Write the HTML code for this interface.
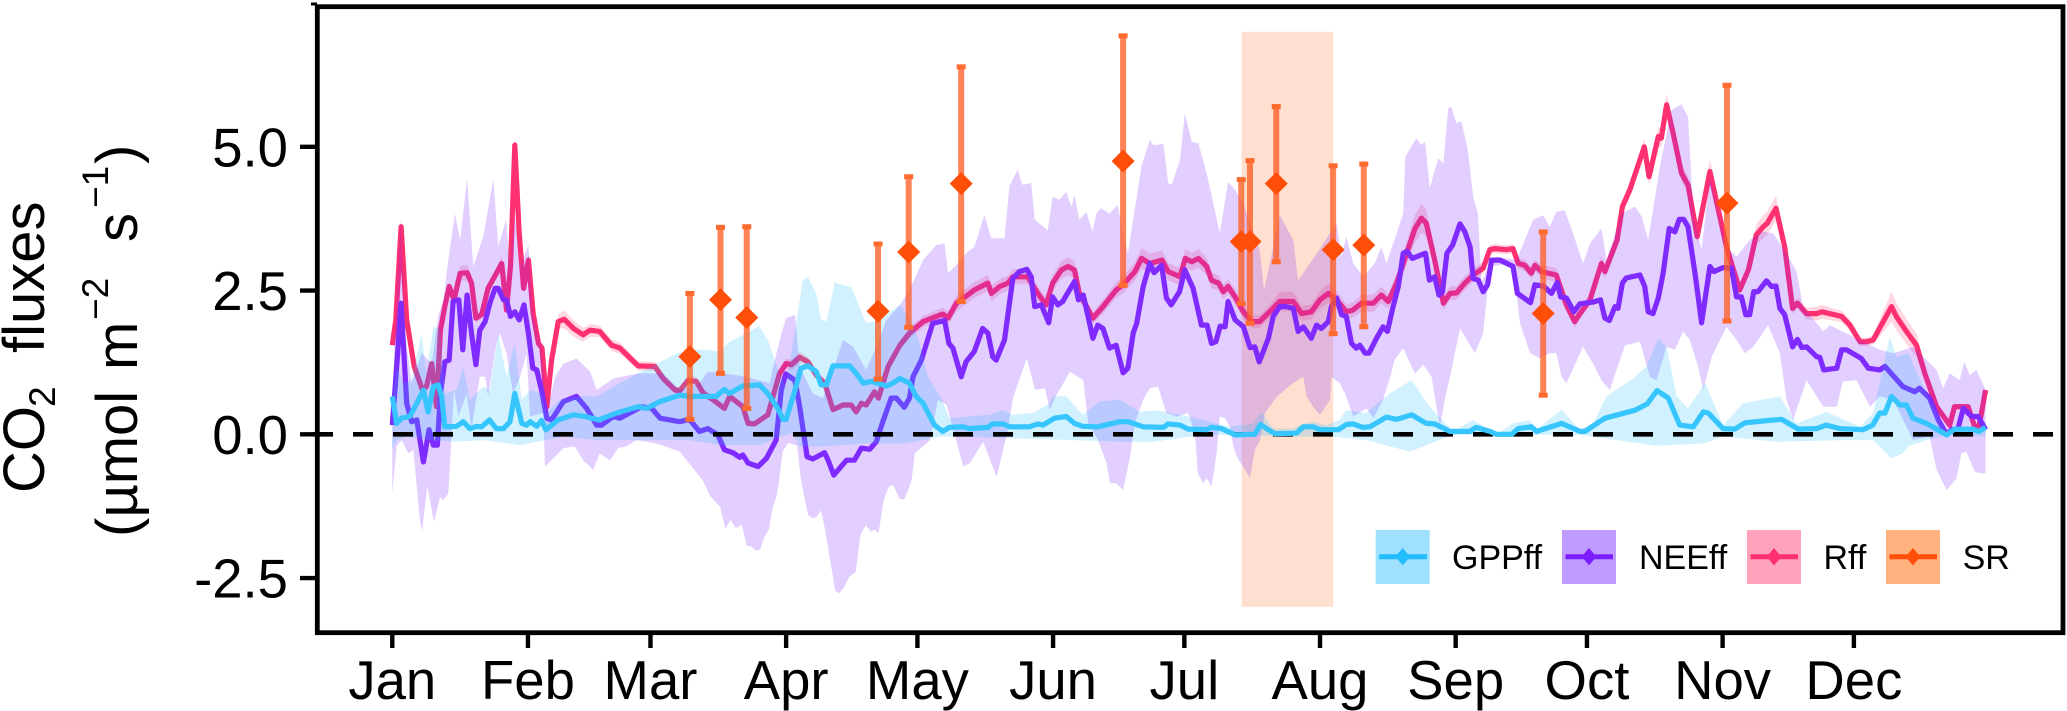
<!DOCTYPE html>
<html lang="en">
<head>
<meta charset="utf-8">
<title>CO2 fluxes</title>
<style>
html,body{margin:0;padding:0;background:#fff;}
svg{display:block;font-family:"Liberation Sans",sans-serif;}
</style>
</head>
<body>
<svg id="chart" xmlns="http://www.w3.org/2000/svg" width="2067" height="711" viewBox="0 0 2067 711">
<g id="plot"></g>
<g id="axes">
<rect x="317.3" y="6.7" width="1745.7" height="626" fill="none" stroke="#000" stroke-width="4.8"/>
<line x1="311" y1="4" x2="317" y2="4" stroke="#000" stroke-width="3"/>
</g>
<g fill="#000">
<text transform="translate(44,493) rotate(-90)" font-size="58">CO</text>
<text transform="translate(55,407) rotate(-90)" font-size="37">2</text>
<text transform="translate(44,353) rotate(-90)" font-size="58">fluxes</text>
<text transform="translate(137,537) rotate(-90)" font-size="58">(µmol</text>
<text transform="translate(137,370) rotate(-90)" font-size="58">m</text>
<text transform="translate(108,320) rotate(-90)" font-size="37">−2</text>
<text transform="translate(137,242) rotate(-90)" font-size="58">s</text>
<text transform="translate(108,208) rotate(-90)" font-size="37">−1</text>
<text transform="translate(137,164) rotate(-90)" font-size="58">)</text>
</g>
<g font-size="34" fill="#000">
<g>
<rect x="1375.7" y="530" width="54" height="54" fill="#9FE0FF"/>
<line x1="1379" y1="556.7" x2="1427" y2="556.7" stroke="#22BCFF" stroke-width="5"/>
<polygon points="1402.7,548 1410,556.7 1402.7,565.4 1395.4,556.7" fill="#22BCFF"/>
<text x="1452" y="569">GPPff</text>
</g>
<g>
<rect x="1562" y="530" width="54" height="54" fill="#C09BFF"/>
<line x1="1565.5" y1="556.7" x2="1613" y2="556.7" stroke="#7A1EFF" stroke-width="5"/>
<polygon points="1589,548 1596.3,556.7 1589,565.4 1581.7,556.7" fill="#7A1EFF"/>
<text x="1639" y="569">NEEff</text>
</g>
<g>
<rect x="1747" y="530" width="54" height="54" fill="#FFA3BC"/>
<line x1="1750.5" y1="556.7" x2="1798" y2="556.7" stroke="#FF3070" stroke-width="5"/>
<polygon points="1774,548 1781.3,556.7 1774,565.4 1766.7,556.7" fill="#FF3070"/>
<text x="1823.5" y="569">Rff</text>
</g>
<g>
<rect x="1886" y="530" width="54" height="54" fill="#FFB27E"/>
<line x1="1889.5" y1="556.7" x2="1937" y2="556.7" stroke="#FF4E08" stroke-width="5"/>
<polygon points="1913,548 1920.3,556.7 1913,565.4 1905.7,556.7" fill="#FF4E08"/>
<text x="1962.6" y="569">SR</text>
</g>
</g>
</svg>
<script>
const monthLabels = ["Jan","Feb","Mar","Apr","May","Jun","Jul","Aug","Sep","Oct","Nov","Dec"];
const monthDays = [0,31,59,90,120,151,181,212,243,273,304,334];
const yTickValues = [-2.5,0,2.5,5];
const yTickLabels = ["-2.5","0.0","2.5","5.0"];

const rDays = [0,.8,2,3.3,5,6.9,7.8,9,10.1,11,12,13,14.1,15.5,17.1,18.1,19.1,20.4,21.9,23.8,25,26.1,27,28,29,30,31.1,32.2,33.4,34.2,35.3,36.4,37.9,39.3,41.4,43.6,45.2,47.4,50.1,52,56.2,60,61.9,64.6,65.7,67.6,
69.5,71,73.3,75.9,77.1,80.1,81.3,82.8,85.8,87.3,88.5,90,91.2,93.1,95,96.9,98.8,100.7,103,104.9,106,107.2,108.3,110.2,111.1,113.3,116,118.2,121.3,125.8,127,128.9,130,133,136.1,136.9,138.8,140.7,141.8,145.2,147.5,149.4,150.9,152.9,154.4,155.9,157,160.1,162.4,165.4,167,
169.7,171.2,173.1,175.9,177.3,180,181.2,182.7,184.2,186.1,187.2,188.8,189.9,191,192.6,194.5,196.4,198.2,200.5,202.8,205.9,207.8,210,212,213.9,215.8,218,219.5,221.5,224.2,226,227.6,229.5,231.8,233.7,235.2,236.3,238.2,240.2,241.7,243.2,245.1,247,249.3,250.8,252,254.6,256.1,257.3,258.8,260.3,261.1,262.6,266,268.3,270.2,
271.4,273.7,276.3,277.1,279.9,281.1,282.8,286.1,287.2,289.3,290,291.2,292.7,294.6,296.1,298.2,301.1,304.9,307.9,309.9,311.7,313.3,314.2,316.2,318.2,320,321.1,323.2,325.5,326.7,331.2,333.1,335.4,336.9,338.4,342.6,343.7,346,348.3,350.2,352.9,355.9,357,360.1,361.6,362.6,364.1];
const rValues = [1.55,1.99,3.61,1.99,1.18,.77,.83,1.23,.48,1.81,2.22,2.57,2.34,2.8,2.81,2.63,2.02,2.08,2.54,2.8,2.97,2.16,2.92,5.03,3.5,2.54,3.03,2.1,1.58,1.5,.48,1.29,1.96,2,1.84,1.73,1.81,1.79,1.55,1.5,1.19,1.18,.97,.77,.76,.94,
.92,.72,.6,.45,.66,.48,.19,.18,.34,.74,1.06,1.23,1.21,1.34,1.26,1.03,.89,.43,.51,.51,.39,.54,.51,.74,.63,1.18,1.55,1.76,1.96,2.09,2.02,2.28,2.34,2.51,2.63,2.45,2.57,2.63,2.74,2.74,2.45,2.25,2.63,2.86,2.92,2.86,2.45,2.02,2.22,2.51,2.6,
2.83,3.06,2.97,3.03,2.83,2.74,3.06,3,3.06,2.92,2.68,2.63,2.48,2.57,2.39,2.13,1.96,1.96,2.13,2.31,2.31,2.1,2.13,2.34,2.45,2.34,2.13,2.16,2.28,2.28,2.42,2.31,2.63,3.15,3.58,3.76,3.67,3.03,2.28,2.45,2.46,2.63,2.77,2.89,3.21,3.23,3.21,3.23,2.97,2.94,2.8,2.94,2.83,2.77,2.25,1.96,
2.1,2.34,2.97,2.83,3.38,3.96,4.25,5,4.48,5.18,5.15,5.73,5.23,4.54,4.34,3.44,4.57,3.26,2.51,2.86,3.47,3.61,3.67,3.93,3.26,2.19,2.28,2.1,2.1,2.13,2.05,1.9,1.61,1.61,1.64,2.22,2.05,1.79,1.55,1.06,.48,.16,.48,.48,.13,.13,.77];
const rSpread = [.03,.06,.17,.08,.05,.04,.05,.08,.05,.06,.07,.08,.09,.12,.14,.12,.08,.07,.08,.1,.12,.08,.1,.18,.1,.08,.1,.07,.06,.05,.04,.06,.12,.16,.14,.12,.11,.1,.1,.1,.08,.08,.07,.06,.06,.08,
.08,.07,.06,.05,.05,.05,.05,.05,.05,.06,.08,.09,.09,.1,.08,.07,.06,.05,.05,.05,.05,.05,.05,.05,.05,.07,.08,.09,.1,.11,.12,.13,.14,.14,.14,.14,.13,.13,.13,.13,.12,.12,.14,.15,.16,.15,.12,.1,.12,.13,.15,
.16,.18,.17,.17,.15,.15,.16,.16,.16,.15,.14,.13,.13,.13,.13,.12,.11,.11,.12,.17,.17,.13,.13,.15,.17,.15,.13,.13,.15,.15,.15,.13,.15,.2,.24,.25,.24,.18,.12,.12,.12,.12,.12,.1,.08,.08,.08,.08,.08,.1,.1,.1,.12,.12,.11,.11,
.1,.1,.13,.12,.12,.12,.13,.13,.15,.17,.17,.2,.18,.15,.14,.12,.22,.15,.1,.12,.18,.2,.2,.22,.15,.1,.09,.1,.12,.12,.1,.1,.08,.07,.08,.26,.24,.22,.2,.12,.05,.05,.05,.05,.03,.03,.05];

const neeDays = [0,1,2,3.3,4.4,5.6,7.1,8.4,9.4,10.3,11,12,13,13.9,15.2,16.1,17.1,18.1,19.1,20,21.2,22.3,23.5,24.2,25.4,26.1,27,28,29,30.1,31.1,32.1,33,34.1,35.3,36.4,39.1,42.1,44.4,46.7,47.8,50.5,52,57,59.3,61.2,65.7,
67.9,70.2,72.1,74.4,75.9,77.8,79.4,80.1,81.3,83.6,85.5,87.7,88.9,89.9,92,93.1,94.8,96.1,98.8,99.6,100.9,103.8,105.6,107.2,109.1,110.6,112.1,114,115.2,117,118.2,119,120.9,123.5,126.2,127.2,128.1,130,131.1,133,134.9,136.1,137.2,138,139.9,141.8,143.3,145,146,146.8,148.3,150,150.9,152.1,153.2,155.9,156.8,157.9,160.1,161.2,162.4,163.9,165.4,167,168.1,
169.3,170.1,171.6,173.1,174.1,175.8,176.9,178,179.9,181.1,183,184.9,186.2,187.2,188.2,189.2,190.3,191,192.6,194.5,196,197.1,198.1,200.2,201.3,202.8,204.3,205.9,207,208.2,210,211.2,212.3,213.9,214.6,215.8,216.9,218,219.2,220.3,221.1,222.3,223.2,224.9,226.4,227.4,228.7,229.9,231,231.9,233.1,236.1,237,238.2,239.2,240,241,242.3,244,245.1,246.3,247,248.2,249.3,250.3,251.2,253.1,256.1,257.1,260.1,261.1,263,264.9,266.2,267,268.3,270,
271.4,274.4,276.1,277.1,278.1,279.4,280.1,281.1,282,285.1,286.2,287,288.1,289.3,290.4,291.8,293.1,294.1,295.1,296.1,297.7,299.2,301.1,302,304.1,306,307.2,308.3,309.3,310.2,311.1,312.1,314,315.2,316.2,317.1,318.2,320,321.1,322.1,323.2,325.5,326.2,327.1,330.1,331.2,332.3,335.7,337.3,339.9,341.1,345.2,347.9,349,351.3,353.3,355.2,356.3,357.8,359,360.9,362.4,364.1];
const neeValues = [.16,1.18,2.28,.54,.22,.25,-.48,.08,-.19,-.19,.71,1.26,1.29,2.31,2.34,1.47,2.42,1.76,1.21,1.81,1.96,2.28,2.54,2.54,2.34,2.34,2.05,2.13,1.99,2.25,1.76,1.15,1.12,.77,.28,.25,.57,.66,.45,.16,.16,.31,.28,.48,.45,.28,.22,
.26,.05,.1,-.01,-.27,-.32,-.4,-.36,-.5,-.56,-.42,-.1,.77,1.05,.94,.48,-.39,-.43,-.32,-.45,-.71,-.45,-.45,-.24,-.26,-.13,.22,.63,.63,.47,.63,1,1.29,1.93,1.98,1.58,1.5,1,1.26,1.44,1.84,1.76,1.35,1.29,1.64,2.71,2.83,2.87,2.74,2.22,2.25,1.94,2.39,2.25,2.31,2.66,2.34,2.42,1.67,1.9,1.84,1.5,1.55,1.07,1.15,
1.76,1.93,2.57,2.97,2.81,2.94,2.37,2.25,2.48,2.86,2.54,1.9,1.9,1.58,1.61,1.88,1.87,2.31,1.99,1.87,1.51,1.52,1.26,1.67,2.05,2.22,2.22,2.19,1.79,1.87,1.67,1.9,1.84,1.96,2.22,2.37,2.08,2.05,1.58,1.5,1.55,1.41,1.41,1.67,1.87,1.79,2.22,2.57,3.15,3.18,3.06,3.15,2.68,2.74,2.42,2.48,3.15,3.29,3.66,3.52,3.26,2.71,2.68,2.48,2.6,3.03,3.03,2.92,2.45,2.29,2.6,2.58,2.45,2.64,2.39,2.37,2.13,
2.27,2.3,2.34,2.02,1.98,2.22,2.19,2.63,2.72,2.77,2.57,2.13,2.1,2.37,2.8,3.58,3.52,3.74,3.74,3.61,2.8,1.94,2.92,2.83,2.9,2.89,2.39,2.39,2.08,2.08,2.48,2.48,2.67,2.57,2.58,2.19,2.08,1.52,1.65,1.51,1.52,1.35,1.34,1.12,1.15,1.47,1.47,1.32,1.15,1.12,1.18,.83,.74,.8,.63,.25,-.01,.08,.1,.45,.31,.31,.08];

const gppDays = [0,1,2.1,4,5.6,7.1,8.2,9.4,10.5,11.3,12,14.7,16.2,17.7,19.3,20.4,22.2,23.8,25.4,26.9,28,29.6,30.7,31.5,33,34.1,35.1,37.9,41.4,44,47.1,51.3,56.2,58.1,61.2,65.7,
67.9,74,75.9,77.1,80.1,83.9,85.8,88.1,89.3,90,91.9,93.4,95,96.9,98,99.2,100.7,104.5,106,107.6,109.5,112.9,114.4,116,118.2,119.7,121.3,123.9,125.8,127.3,130.4,131.9,136.1,137.2,139.5,141.1,145.6,147.5,148.7,151.3,154,155.9,157.8,161.2,166.2,
168.2,171.6,176.2,177.3,180,181.9,186.1,187.2,189.5,192.6,197.1,198.4,199.8,201.7,206.6,208.2,210.4,212,216.2,218,219.6,221.8,223.4,227.2,229.5,232.9,236.3,238.2,241.7,246.2,247.7,250.8,252.3,255.8,257.3,260.3,261.5,267.2,
271.4,272.5,277.1,284,286.8,289,291.6,294.2,297.3,299.6,300.7,304.1,306.8,309.1,314.4,317.5,321.3,325.5,327.7,330.8,336.1,338.3,339.9,341.1,342.6,344.5,346,347.5,350.6,355.2,357,361.2,362.6,364.1];
const gppValues = [.66,.19,.28,.31,.54,.77,.39,.83,.86,.66,.13,.14,.22,.1,.14,.13,.25,.1,.1,.22,.71,.19,.16,.22,.14,.24,.08,.25,.34,.31,.25,.37,.48,.45,.57,.68,
.66,.66,.78,.71,.84,.86,.71,.45,.26,.26,.74,1.15,1.19,1.09,.86,.86,1.19,1.19,1.06,.89,.92,.84,.89,.97,.89,.66,.54,.16,.05,.12,.13,.1,.12,.18,.18,.13,.13,.18,.16,.28,.31,.19,.14,.13,.22,
.22,.13,.12,.18,.16,.09,.08,.12,.1,-.01,0,.17,.1,.01,.02,.13,.13,.08,.08,.17,.18,.12,.13,.3,.26,.34,.19,.18,.05,.05,.12,.05,0,0,.1,.13,.05,.19,
.05,.05,.28,.42,.53,.76,.63,.16,.13,.39,.37,.1,.09,.2,.24,.26,.09,.1,.16,.1,.08,.16,.37,.37,.66,.51,.51,.28,.19,-.01,.09,.09,.05,.12];

const gppUpperDays = [0,1,2.5,4.4,6.7,7.8,9.4,10.9,12,14.7,16.2,17.7,20.8,22.3,24.2,26.1,28,29.6,31.5,34.1,35.1,38.3,42.1,46.7,52,56.2,65,70.2,74.8,77.1,80.1,83.9,85.8,88.5,90,91.9,93.8,95,96.9,98,99.2,101.1,104.9,108.3,111.4,116,118.6,120.5,122.4,125.4,127.3,136.5,139.5,141.8,146.4,150.2,150.9,154,157.8,161.6,166.2,170.8,174.6,180,181.9,191.4,196.8,198.6,201.3,205.9,208.2,210.4,213.5,216.5,218,222.6,227.9,232.9,237.1,242.4,247,250.8,252.3,256.1,259.9,261.5,267.2,271.4,274.4,277.5,283.5,286.6,289.3,291.2,293.5,296.1,300,304.1,308.7,317,320.9,327.7,335.4,338.4,342.2,343.7,346.4,350.6,355.2,364.1];
const gppUpper = [.66,1.18,.89,.94,1.76,1.06,1.87,1.84,.71,.77,1.18,.6,.83,.77,1.76,1,1.58,.6,.77,.71,.37,.6,.66,.66,.89,1.06,1.41,1.48,1.44,1.61,1.73,1.88,1.64,1.06,.83,1.76,2.68,2.73,2.45,1.99,1.96,2.64,2.56,1.93,1.99,2.25,1.99,1.58,1,.63,.28,.34,.42,.34,.37,.54,.66,.66,.34,.57,.6,.39,.42,.34,.31,.13,.19,.39,.1,.1,.19,.22,.16,.25,.42,.37,.71,.94,.48,.05,.25,.08,0,.19,.25,.08,.43,.08,.19,.66,.97,1.18,1.67,1.52,.66,.45,.89,.16,.54,.66,.19,.39,.13,.37,1.7,1.35,1.41,.71,.02,.13];
const gppLowerDays = [0,1,3.3,8.6,14.7,20.8,29.2,34.9,39.1,46.7,68,75.5,83.9,88.5,91.5,93.1,98.4,108.3,117.4,125.1,128.9,141.8,155.5,167,173.9,185.3,192.2,204.3,215,222.6,232.5,242.4,271.4,288.9,299.6,304.1,316.3,331.5,338.4,342.6,345.2,346.4,350.6,355.2,364.1];
const gppLower = [-.27,-.1,-.04,-.1,-.13,-.1,-.19,-.1,-.04,-.1,-.1,-.19,-.19,-.04,.02,-.21,-.21,-.16,-.16,-.04,-.04,-.07,-.1,-.13,-.13,-.01,-.01,-.04,-.04,-.1,-.3,-.01,-.01,-.2,-.16,-.04,-.13,-.1,-.1,-.42,-.33,-.21,-.1,-.01,-.04];

const neeUpperDays = [0,.6,1.9,2.9,4.4,6.7,9,10.5,11.7,12.8,14.3,15.5,17.1,18.5,20.8,23.1,24.2,26,26.9,28,29.2,31.1,32.2,34.1,35.3,37.2,39.1,42.1,45.2,46.7,50.5,56.2,61.9,65.7,70.2,72.1,75.9,80.9,86.2,88.5,90,92,93.1,96.1,98.4,100.7,103,105.3,108.3,110.6,112.9,116,118.2,121.3,124.3,126.2,127,130,131.1,133,135.3,136.9,139.9,141,142.9,144,146,146.8,149.8,150.9,152.5,154,155.2,155.9,157,158.6,160,160.9,162,163.9,165.8,167,168.1,171.2,173.1,173.9,176.2,177.3,178.1,180,181.1,182.7,184.2,186.1,189.1,191,192.6,194.5,198.2,199.2,200.5,202.8,205.9,207,209.7,212,215.8,216.9,218,219.6,221.9,224.5,226,227.2,231,231.5,234,235.2,236,237.1,239,240.2,241.3,242,243.2,244.3,245.8,247,248.1,248.9,250.4,252.3,256.9,260.7,263,264.5,266,267.9,269.8,272.1,273.7,276.3,277.5,280.9,284,285.5,287,289.7,292.3,294.6,296.1,297.3,299.2,301.1,304.9,307.2,310.2,313.3,315.5,318.6,320.9,322.4,327,328.5,330.8,335.4,339.9,343,347.5,349.8,352.9,354.4,355.9,358.2,359.2,360.5,362,364.1];
const neeUpper = [.6,1.76,3.73,1.76,.89,1.41,1.23,2.05,2.34,3.03,3.84,3.38,4.45,2.92,3.44,4.45,3.26,3.73,2.92,3.84,2.92,3.29,2.05,1.52,.37,1,1.23,1.32,1.09,.77,.97,1.06,1.06,.77,.89,1.09,1.06,1,.89,1.64,2.02,2.08,1.18,.71,.63,1.12,1.64,1.52,1.12,1.52,1.99,2.25,2.51,3.03,3.29,3.32,2.8,3.03,3.15,3.26,3.81,3.41,3.41,4.31,4.6,4.34,4.37,3.73,3.55,4.13,4.08,4.22,3.96,4.16,3.73,3.87,3.52,3.84,3.93,3.84,3.99,3.5,3.15,4.66,5.12,5.03,5.05,4.37,4.34,4.77,5.58,5.09,5.06,4.54,3.5,4.39,4.25,4.02,3.21,2.51,2.97,3.81,3.38,2.68,2.97,3.23,3.67,3.09,3.44,2.97,2.74,2.97,3.26,2.97,3.84,4.83,5.15,5.03,5.09,4.28,4.8,4.71,5.67,5.7,5.41,5.44,4.94,4.13,3.84,2.63,2.92,3.09,3.03,3.73,3.81,3.61,3.87,3.9,3.5,2.97,3.32,3.58,3.03,3.84,3.96,3.79,3.38,4.66,5.64,5.74,5.52,3.79,3.21,4.48,3.26,3.09,3.38,3.52,3.5,3.15,2.83,2.22,1.79,1.9,1.81,1.64,1.47,1.41,1.52,1.35,1.12,.8,1.06,.94,1.26,1.03,1.12,.77];
const neeLowerDays = [0,1,2.1,3.7,4.8,6.3,6.8,8,9.5,10.9,11.7,12.8,14.1,15.1,17,18.1,20,21.2,21.9,23.8,24.6,26.1,27.6,29.2,30.7,31.5,34.5,34.9,37.2,39.1,41.7,43.6,45.9,47.4,49.7,51.6,53.5,55.8,60.4,65.7,70.9,72.7,74.9,76.1,77.3,78.5,79.9,81,82,83.1,84,84.9,86.1,86.9,87.8,88.4,89.2,90.5,92.5,93.4,95,96,96.9,98,98.9,100.3,101.2,102,103.2,104.4,105.9,107,108.2,109.4,110.2,111.1,112.3,113.5,114.4,116,117,118.1,118.7,119.4,122.9,124.7,126.7,129,130.5,132,135,138.1,140.5,141.9,145,146.9,149.1,150.3,151.4,154.9,157.9,159,161.3,163.2,164,165.5,167,168.6,169.7,171.6,173.1,175,176.9,179.2,181.9,183.4,184.1,185.3,186.1,187.2,188.4,189.1,190.3,191.4,192.2,193,196,197.1,198.3,199.4,202.1,205.8,208.2,208.9,210.4,212,214.3,214.6,216.5,217.7,219.6,222.6,224.2,226.4,228.3,229,231,232.9,233.7,235.6,237.5,238.2,239.4,240.5,241.7,244,246.3,247.4,249.3,250.8,256.1,257.7,260,262.2,264.5,266,267.2,268.3,272.1,274.4,276.3,278.2,281.7,285.1,287.4,288.9,291.2,293.1,295,296.5,298.4,299.6,301.5,304.9,307.2,309.1,311,314.4,317.1,318.6,320.1,323.2,327,330.1,331.5,334.6,337.7,339.9,343,347.5,351.3,352.9,355.2,357.4,358.6,359.7,361.6,363.1,364.1];
const neeLower = [-1.03,-.21,-.1,-.33,-.27,-1.49,-1.69,-.9,-1.52,-1.1,-1.14,-1.03,.77,.31,.71,.08,1,1,.66,1.58,1.76,1.41,.71,1,1.41,.31,.37,-.56,-.39,-.24,-.21,-.45,-.62,-.33,-.45,-.24,-.21,-.1,-.16,-.3,-.8,-1.08,-1.26,-1.64,-1.49,-1.63,-1.58,-1.94,-1.95,-2.02,-2.01,-1.81,-1.64,-1.28,-1.08,-.8,-.3,-.15,-.2,-.8,-1.4,-1.46,-1.44,-1.32,-1.66,-2.3,-2.71,-2.77,-2.67,-2.48,-2.39,-1.75,-1.58,-1.69,-1.66,-1.72,-1.14,-.91,-.88,-1.13,-1.13,-.93,-.79,-.33,-.1,.6,.51,-.15,-.56,-.5,-.13,-.74,.02,.65,1.32,.77,.8,.42,.63,1.09,.94,.2,-.1,-.5,-.85,-.85,-.97,-.39,.2,.6,.8,.83,.37,.31,.37,.02,-.68,-.85,-.76,-.91,-.33,.31,.28,.13,-.21,-.39,-.76,-.27,-.1,.37,.65,.89,1,.66,.48,.34,.6,1,.89,.71,.31,.45,.28,.6,1.06,1.29,1.5,1.18,1.06,1.21,1,.66,.13,.6,1,1.84,1.55,1.41,1.76,2.92,2.97,1.93,1.41,1.32,1.41,1.41,1,.89,1.52,1.23,.94,.77,1.55,1.61,1,.94,1.52,1.47,1.79,1.64,1.18,.77,1.35,1.87,1.64,1.41,1.52,1.9,1.41,.6,.25,.94,.48,.48,.92,.94,.48,.66,.6,-.1,-.04,-.62,-.97,-.77,-.33,-.3,-.65,-.68,-.68];

const srDays = [68,75,81,111,118,130,167,194,196,202,215,222,263,305];
const srValues = [1.35,2.34,2.03,2.14,3.17,4.36,4.75,3.35,3.35,4.36,3.21,3.29,2.1,4.02];
const srUpper = [2.45,3.6,3.61,3.31,4.48,6.39,6.93,4.43,4.76,5.7,4.67,4.7,3.52,6.07];
const srLower = [.26,1.06,.45,.96,1.86,2.31,2.59,2.27,1.93,3,1.75,1.87,.68,1.97];

const highlightStart = 194.1;
const highlightEnd = 215;
const highlightBottom = -3;
const highlightTop = 7;

function xScale(day){ return 392.3 + 4.376 * day; }
function yScale(value){ return 434.3 - 57.5 * value; }
const NS = "http://www.w3.org/2000/svg";
const plot = document.getElementById("plot");
const axes = document.getElementById("axes");
function add(parent, tag){
  const el = document.createElementNS(NS, tag);
  parent.appendChild(el);
  return el;
}
function linePath(days, values){
  let d = "";
  for(let i=0;i<days.length;i++){ d += (i?"L":"M") + xScale(days[i]).toFixed(1) + " " + yScale(values[i]).toFixed(1); }
  return d;
}
function ribbonPath(upDays, up, loDays, lo){
  let d = linePath(upDays, up);
  for(let i=loDays.length-1;i>=0;i--){ d += "L" + xScale(loDays[i]).toFixed(1) + " " + yScale(lo[i]).toFixed(1); }
  return d + "Z";
}
function styleLine(el, days, values, color){
  el.setAttribute("d", linePath(days, values));
  el.setAttribute("fill", "none");
  el.setAttribute("stroke", color);
  el.setAttribute("stroke-width", "5.2");
  el.setAttribute("stroke-linejoin", "round");
}
function styleRibbon(el, d, color, alpha){
  el.setAttribute("d", d);
  el.setAttribute("fill", color);
  el.setAttribute("fill-opacity", alpha);
}

const band = add(plot, "rect");


band.setAttribute("x", xScale(highlightStart));
band.setAttribute("y", yScale(highlightTop));
band.setAttribute("width", xScale(highlightEnd) - xScale(highlightStart));
band.setAttribute("height", yScale(highlightBottom) - yScale(highlightTop));
band.setAttribute("fill", "#FF7F3C");
band.setAttribute("fill-opacity", "0.24");

const rLine = add(plot, "path");


styleLine(rLine, rDays, rValues, "#FF3070");

const rHigh = rValues.map((v,i)=> v + (rSpread[i] ?? 0.1));
const rLow = rValues.map((v,i)=> v - (rSpread[i] ?? 0.1));
const rRibbon = add(plot, "path");


styleRibbon(rRibbon, ribbonPath(rDays, rHigh, rDays, rLow), "#FF3070", "0.2");

const neeRibbon = add(plot, "path");


styleRibbon(neeRibbon, ribbonPath(neeUpperDays, neeUpper, neeLowerDays, neeLower), "#7B22FF", "0.22");

const neeLine = add(plot, "path");


styleLine(neeLine, neeDays, neeValues, "#7F2BFF");

const gppRibbon = add(plot, "path");


styleRibbon(gppRibbon, ribbonPath(gppUpperDays, gppUpper, gppLowerDays, gppLower), "#1EBBFF", "0.2");

const zero = add(plot, "line");


zero.setAttribute("x1", 313);
zero.setAttribute("x2", 2061);
zero.setAttribute("y1", yScale(0));
zero.setAttribute("y2", yScale(0));
zero.setAttribute("stroke", "#000");
zero.setAttribute("stroke-width", "4.6");
zero.setAttribute("stroke-dasharray", "20 20");

const gppLine = add(plot, "path");


styleLine(gppLine, gppDays, gppValues, "#36C5FD");

srDays.forEach(function(day, i){
  const group = add(plot, "g");
  
  
  const x = xScale(day);
  const bar = add(group, "line");
  
  
  bar.setAttribute("x1", x);
  bar.setAttribute("x2", x);
  bar.setAttribute("y1", yScale(srUpper[i]));
  bar.setAttribute("y2", yScale(srLower[i]));
  bar.setAttribute("stroke", "#FF5A1E");
  bar.setAttribute("stroke-opacity", "0.75");
  bar.setAttribute("stroke-width", "6");
  [srUpper[i], srLower[i]].forEach(function(v){
    const cap = add(group, "line");
    
    
    cap.setAttribute("x1", x - 4.5);
    cap.setAttribute("x2", x + 4.5);
    cap.setAttribute("y1", yScale(v));
    cap.setAttribute("y2", yScale(v));
    cap.setAttribute("stroke", "#FF6A2E");
    cap.setAttribute("stroke-width", "5");
  });
  const y = yScale(srValues[i]);
  const mark = add(group, "polygon");
  
  
  mark.setAttribute("points", x + "," + (y-11.5) + " " + (x+11.5) + "," + y + " " + x + "," + (y+11.5) + " " + (x-11.5) + "," + y);
  mark.setAttribute("fill", "#FF4E08");
});

monthDays.forEach(function(day, i){
  const x = xScale(day);
  const tick = add(axes, "line");
  
  
  tick.setAttribute("x1", x);
  tick.setAttribute("x2", x);
  tick.setAttribute("y1", 633);
  tick.setAttribute("y2", 648);
  tick.setAttribute("stroke", "#000");
  tick.setAttribute("stroke-width", "4.4");
  const label = add(axes, "text");
  
  
  label.setAttribute("x", x);
  label.setAttribute("y", 699);
  label.setAttribute("text-anchor", "middle");
  label.setAttribute("font-size", "54.5");
  label.textContent = monthLabels[i];
});

yTickValues.forEach(function(value, i){
  const y = yScale(value);
  const tick = add(axes, "line");
  
  
  tick.setAttribute("x1", 300);
  tick.setAttribute("x2", 317);
  tick.setAttribute("y1", y);
  tick.setAttribute("y2", y);
  tick.setAttribute("stroke", "#000");
  tick.setAttribute("stroke-width", "4.4");
  const label = add(axes, "text");
  
  
  label.setAttribute("x", 288);
  label.setAttribute("y", y + 19.5);
  label.setAttribute("text-anchor", "end");
  label.setAttribute("font-size", "54.5");
  label.textContent = yTickLabels[i];
});
</script>
</body>
</html>
